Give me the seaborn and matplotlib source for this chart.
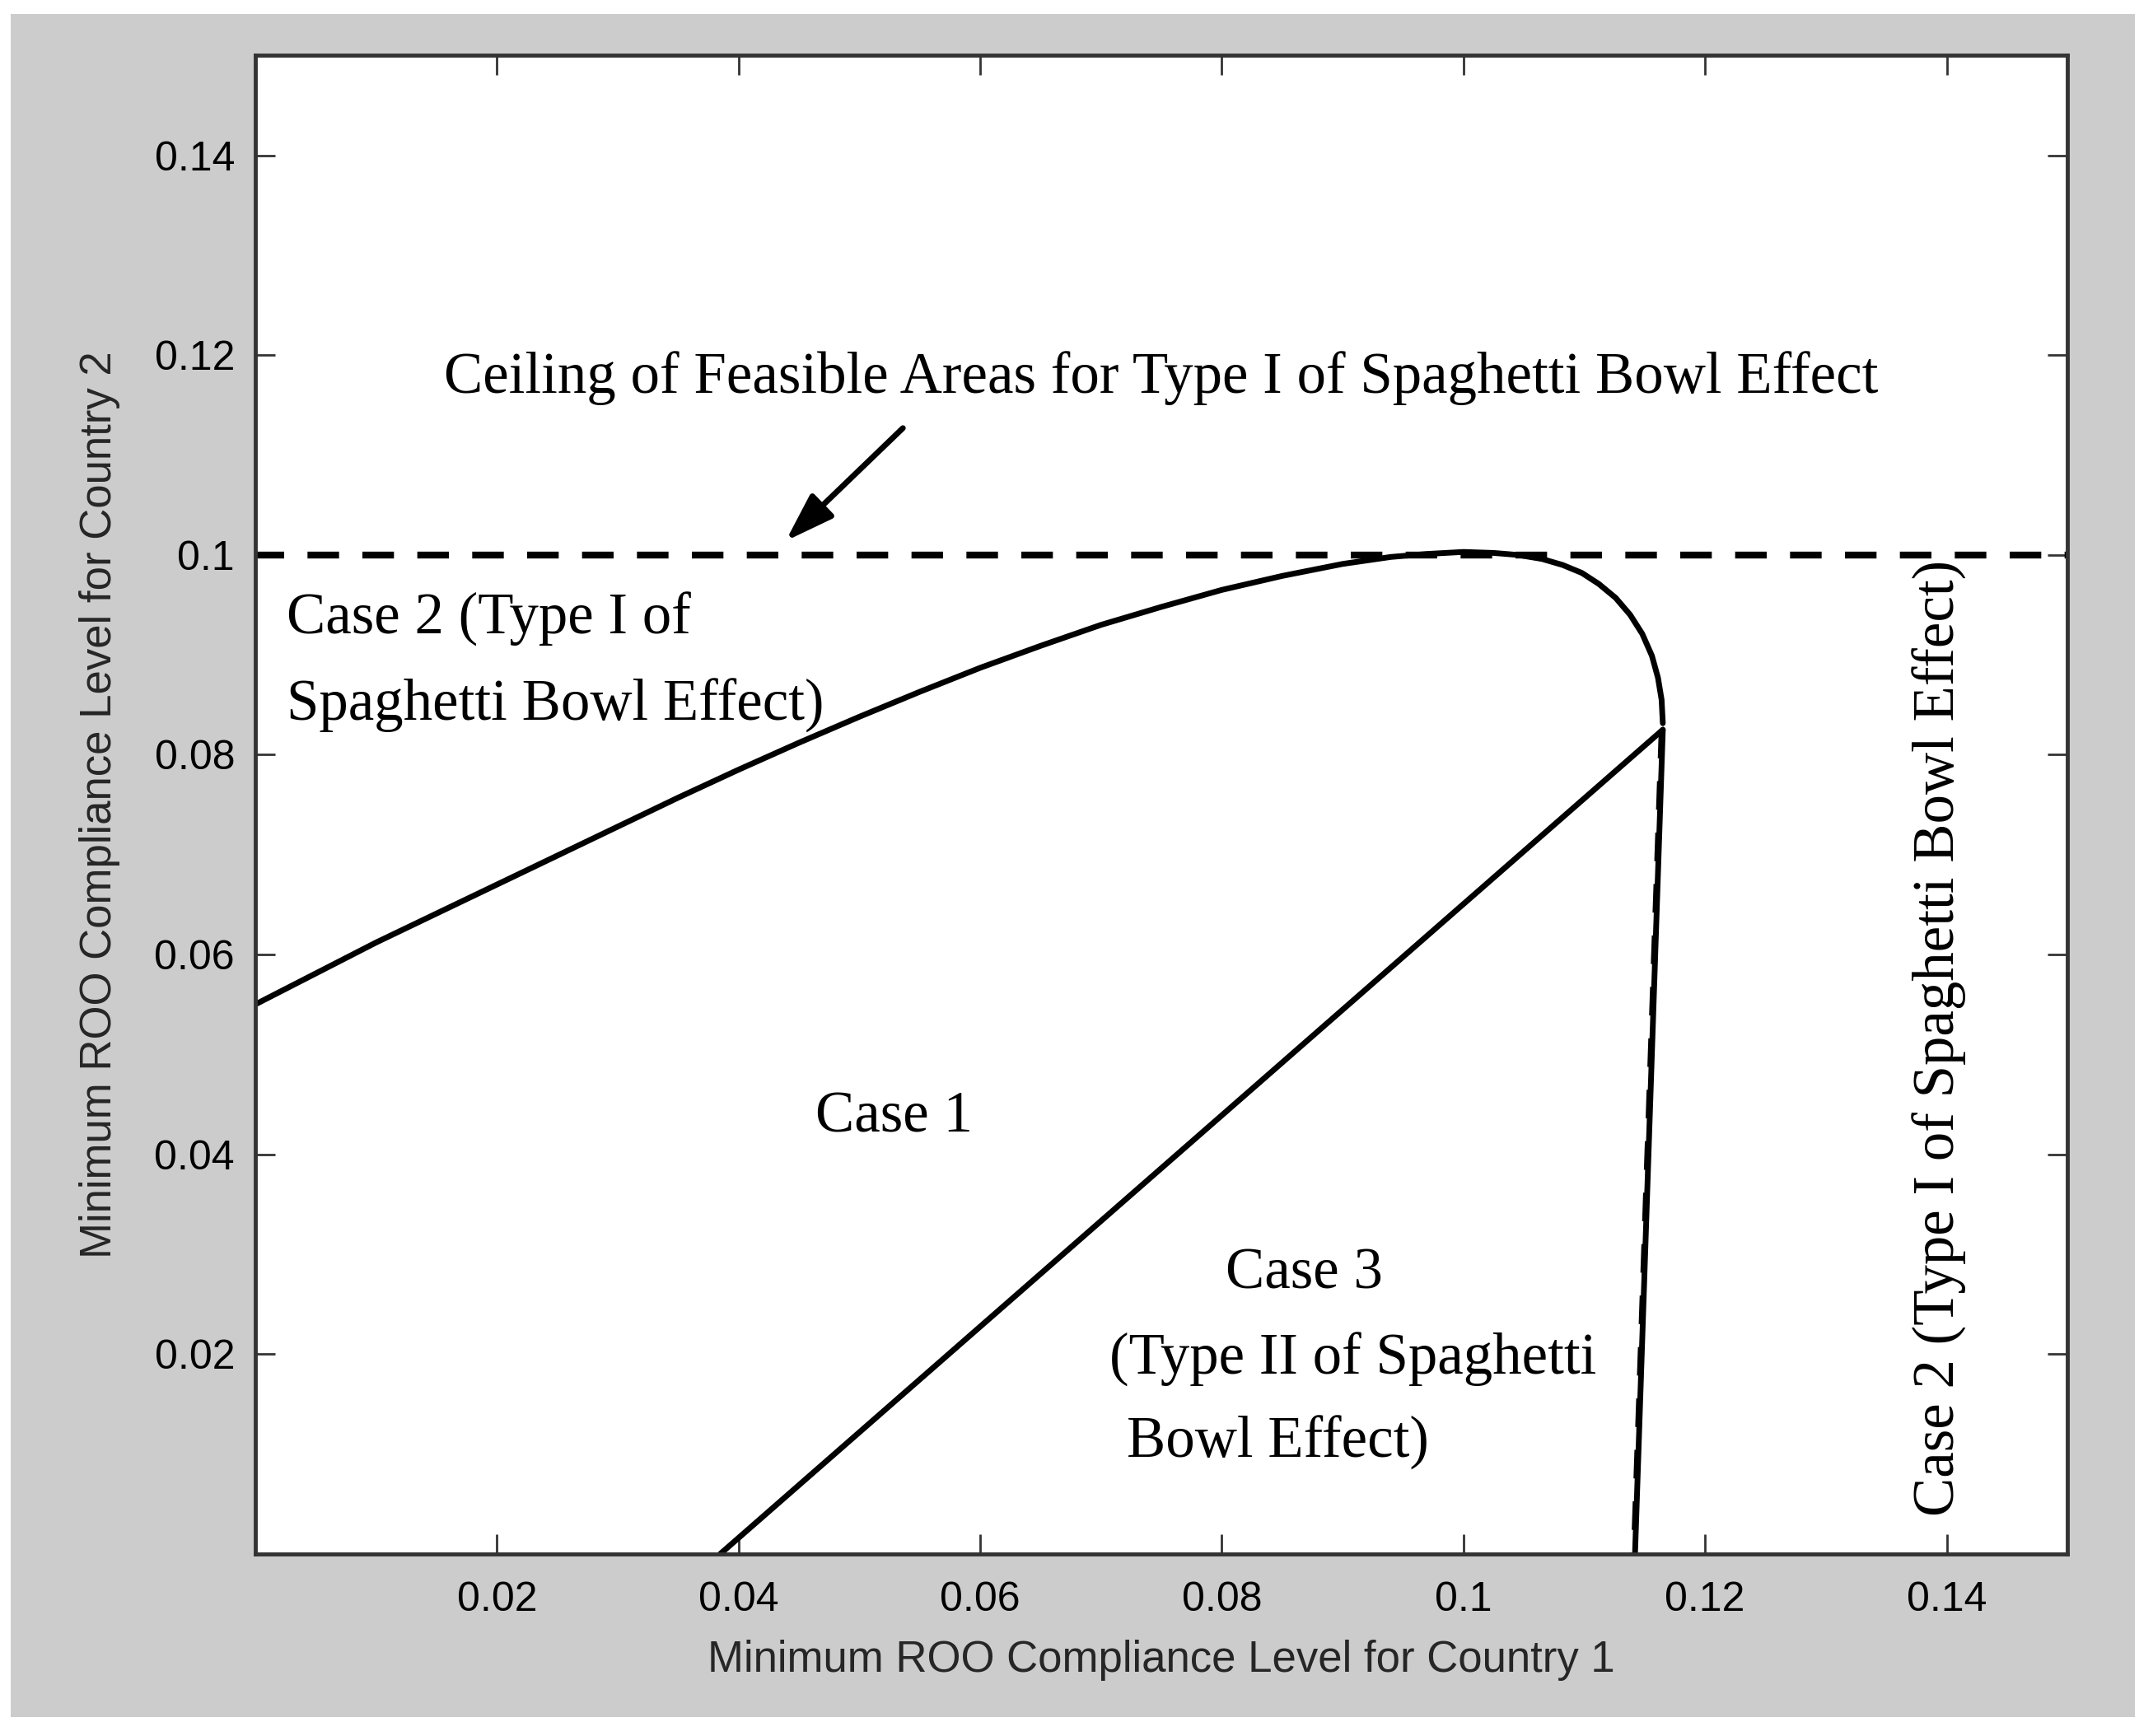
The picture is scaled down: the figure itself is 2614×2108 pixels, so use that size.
import numpy as np
import pandas as pd
import matplotlib
matplotlib.use("Agg")
import matplotlib.pyplot as plt
import seaborn as sns
from matplotlib.patches import Rectangle

# boundary between case 1 and case 2 (upper curve)
upper_x = [0.000, 0.005, 0.010, 0.015, 0.020, 0.025, 0.030, 0.035, 0.040, 0.045,
           0.050, 0.055, 0.060, 0.065, 0.070, 0.075, 0.080, 0.085, 0.090, 0.094,
           0.097, 0.1000, 0.1025, 0.1045, 0.1065, 0.1082, 0.1098, 0.1112, 0.1126,
           0.1138, 0.1148, 0.1156, 0.1161, 0.1164, 0.1165, 0.1165]
upper_y = [0.0550, 0.0581, 0.0612, 0.0641, 0.0670, 0.0699, 0.0728, 0.0757, 0.0785, 0.0812,
           0.0838, 0.0863, 0.0887, 0.0909, 0.0930, 0.0948, 0.0965, 0.0979, 0.0991, 0.0998,
           0.1001, 0.1003, 0.1002, 0.1000, 0.0996, 0.0990, 0.0982, 0.0971, 0.0957,
           0.0940, 0.0921, 0.0899, 0.0877, 0.0855, 0.0838, 0.0825]

# near-vertical boundary on the right
vert_x = [0.1165, 0.1142]
vert_y = [0.0825, 0.0]

# diagonal between case 1 and case 3
diag_x = [0.0385, 0.1165]
diag_y = [0.0, 0.0825]

# ceiling of feasible areas
ceiling_x = [0.0, 0.15]
ceiling_y = [0.1, 0.1]

ticks = [0.02, 0.04, 0.06, 0.08, 0.1, 0.12, 0.14]
tick_labels = ["0.02", "0.04", "0.06", "0.08", "0.1", "0.12", "0.14"]

sns.set_style("ticks")
plt.rcParams['font.family'] = ['Liberation Sans', 'DejaVu Sans']

fig = plt.figure(figsize=(26.14, 21.08), dpi=100)
fig.patch.set_facecolor("white")
fig.patches.append(Rectangle((0.005, 0.0109), 0.9866, 0.9811, transform=fig.transFigure,
                             facecolor="#cccccc", edgecolor="none", zorder=-10))
ax = fig.add_axes([0.1186, 0.105, 0.8417, 0.863])
ax.set_facecolor("white")

upper = pd.DataFrame({"x": upper_x, "y": upper_y})
sns.lineplot(data=upper, x="x", y="y", sort=False, color="black", linewidth=5, ax=ax)
vert = pd.DataFrame({"x": vert_x, "y": vert_y})
sns.lineplot(data=vert, x="x", y="y", sort=False, color="black", linewidth=5, ax=ax)
sns.lineplot(x=np.array(vert_x) - 0.0001, y=vert_y, sort=False, color="black",
             linewidth=5, linestyle=(0, (5, 4)), ax=ax)
diag = pd.DataFrame({"x": diag_x, "y": diag_y})
sns.lineplot(data=diag, x="x", y="y", sort=False, color="black", linewidth=5, ax=ax)
ceil = pd.DataFrame({"x": ceiling_x, "y": ceiling_y})
sns.lineplot(data=ceil, x="x", y="y", sort=False, color="black", linewidth=6,
             linestyle=(0.4, (4.6, 3.4)), ax=ax)

ax.set_xlim(0, 0.15)
ax.set_ylim(0, 0.15)
ax.set_xticks(ticks)
ax.set_xticklabels(tick_labels)
ax.set_yticks(ticks)
ax.set_yticklabels(tick_labels)
ax.tick_params(direction="in", length=17, width=2, color="#333333", labelsize=36,
               labelcolor="black", top=True, right=True)
ax.tick_params(axis="x", pad=24)
ax.tick_params(axis="y", pad=18)
for s in ax.spines.values():
    s.set_linewidth(3.5)
    s.set_color("#333333")

ax.set_xlabel("Minimum ROO Compliance Level for Country 1", fontsize=38, labelpad=18)
ax.set_ylabel("Minimum ROO Compliance Level for Country 2", fontsize=38, labelpad=30)

serif = dict(family=["Liberation Serif", "DejaVu Serif"], fontsize=51, color="black")
ax.text(0.075, 0.1177, "Ceiling of Feasible Areas for Type I of Spaghetti Bowl Effect",
        ha="center", va="center", **serif)
ax.annotate("", xy=(0.0439, 0.1014), xytext=(0.0536, 0.1127),
            arrowprops=dict(arrowstyle="-|>,head_length=0.9,head_width=0.3",
                            color="black", lw=5, mutation_scale=40,
                            shrinkA=0, shrinkB=0))
ax.text(0.0026, 0.0936, "Case 2 (Type I of", ha="left", va="center", **serif)
ax.text(0.0026, 0.0849, "Spaghetti Bowl Effect)", ha="left", va="center", **serif)
ax.text(0.0529, 0.0437, "Case 1", ha="center", va="center", **serif)
ax.text(0.0868, 0.0280, "Case 3", ha="center", va="center", **serif)
ax.text(0.0707, 0.0194, "(Type II of Spaghetti", ha="left", va="center", **serif)
ax.text(0.0721, 0.0111, "Bowl Effect)", ha="left", va="center", **serif)
ax.text(0.1394, 0.0516, "Case 2 (Type I of Spaghetti Bowl Effect)", ha="center",
        va="center", rotation=90, **serif)

fig.savefig("out.png", dpi=100, facecolor=fig.get_facecolor())
